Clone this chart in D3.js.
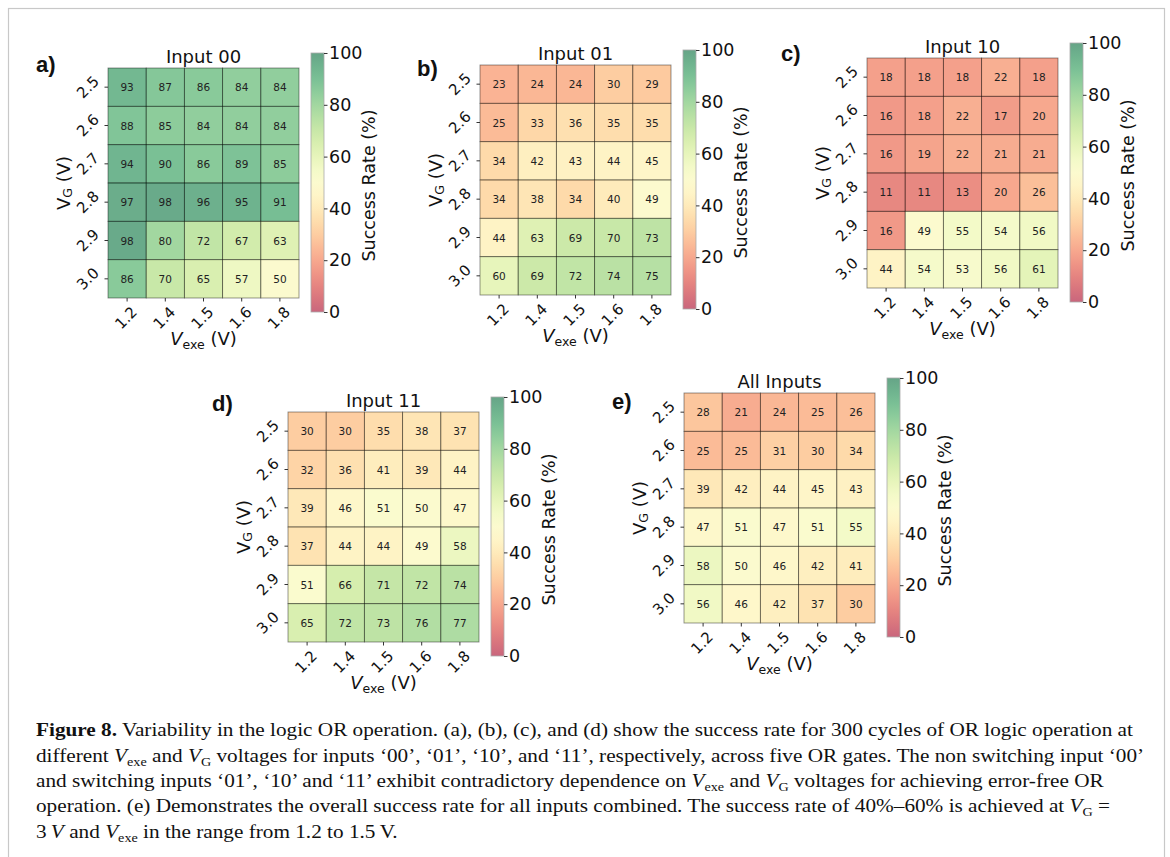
<!DOCTYPE html>
<html>
<head>
<meta charset="utf-8">
<title>Figure 8</title>
<script src="https://d3js.org/d3.v7.min.js"></script>
<style>
  body { margin: 0; background: #fff; }
  svg { display: block; }
  .cell-label { font-family: "DejaVu Sans", sans-serif; font-size: 10.5px; fill: #222; }
  .tick text { font-family: "DejaVu Sans", sans-serif; fill: #111; }
  .ptitle, .axlabel { font-family: "DejaVu Sans", sans-serif; fill: #111; }
  .letter { font-family: "Liberation Sans", Arial, sans-serif; font-weight: bold; font-size: 22px; fill: #111; }
  .caption { font-family: "Liberation Serif", serif; font-size: 18px; fill: #111; }
</style>
</head>
<body>
<svg id="fig" width="1170" height="857"></svg>
<script>

// Axis categories
const vexeLabels = ["1.2", "1.4", "1.5", "1.6", "1.8"];
const vgLabels = ["2.5", "2.6", "2.7", "2.8", "2.9", "3.0"];
const cbarTicks = [0, 20, 40, 60, 80, 100];

// Success rate (%) rows = VG, columns = Vexe
const input00 = [
  [93, 87, 86, 84, 84],
  [88, 85, 84, 84, 84],
  [94, 90, 86, 89, 85],
  [97, 98, 96, 95, 91],
  [98, 80, 72, 67, 63],
  [86, 70, 65, 57, 50]
];
const input01 = [
  [23, 24, 24, 30, 29],
  [25, 33, 36, 35, 35],
  [34, 42, 43, 44, 45],
  [34, 38, 34, 40, 49],
  [44, 63, 69, 70, 73],
  [60, 69, 72, 74, 75]
];
const input10 = [
  [18, 18, 18, 22, 18],
  [16, 18, 22, 17, 20],
  [16, 19, 22, 21, 21],
  [11, 11, 13, 20, 26],
  [16, 49, 55, 54, 56],
  [44, 54, 53, 56, 61]
];
const input11 = [
  [30, 30, 35, 38, 37],
  [32, 36, 41, 39, 44],
  [39, 46, 51, 50, 47],
  [37, 44, 44, 49, 58],
  [51, 66, 71, 72, 74],
  [65, 72, 73, 76, 77]
];
const allInputs = [
  [28, 21, 24, 25, 26],
  [25, 25, 31, 30, 34],
  [39, 42, 44, 45, 43],
  [47, 51, 47, 51, 55],
  [58, 50, 46, 42, 41],
  [56, 46, 42, 37, 30]
];

const panelTitles = ["Input 00", "Input 01", "Input 10", "Input 11", "All Inputs"];
const panelLetters = ["a)", "b)", "c)", "d)", "e)"];
const panelData = [input00, input01, input10, input11, allInputs];

// Caption lines as [text, style] pieces
const captionLines = [
  [["Figure 8.", "b"], [" Variability in the logic OR operation. (a), (b), (c), and (d) show the success rate for 300 cycles of OR logic operation at", ""]],
  [["different ", ""], ["V", "i"], ["exe", "sub"], [" and ", ""], ["V", "i"], ["G", "sub"], [" voltages for inputs \u201800\u2019, \u201801\u2019, \u201810\u2019, and \u201811\u2019, respectively, across five OR gates. The non switching input \u201800\u2019", ""]],
  [["and switching inputs \u201801\u2019, \u201810\u2019 and \u201811\u2019 exhibit contradictory dependence on ", ""], ["V", "i"], ["exe", "sub"], [" and ", ""], ["V", "i"], ["G", "sub"], [" voltages for achieving error-free OR", ""]],
  [["operation. (e) Demonstrates the overall success rate for all inputs combined. The success rate of 40%\u201360% is achieved at ", ""], ["V", "i"], ["G", "sub"], [" =", ""]],
  [["3\u2009", ""], ["V", "i"], [" and ", ""], ["V", "i"], ["exe", "sub"], [" in the range from 1.2 to 1.5\u2009V.", ""]]
];

// Layout: heatmap top-left and panel letter position
const panelLayout = [
  { x: 108, y: 68, lx: 36, ly: 72 },
  { x: 480, y: 65, lx: 417, ly: 76 },
  { x: 867, y: 58, lx: 781, ly: 61 },
  { x: 288, y: 412, lx: 212, ly: 411 },
  { x: 684, y: 393, lx: 612, ly: 409 }
];
const hmW = 191, hmH = 230;
const cbW = 13, cbH = 259;

const svg = d3.select("#fig");

// Figure frame
svg.append("rect")
    .attr("x", 8.5).attr("y", 8.5)
    .attr("width", 1156).attr("height", 880)
    .attr("fill", "none")
    .attr("stroke", "#c8c8c8")
    .attr("stroke-width", 1.2);

const color = d3.scaleSequential(d3.interpolateRdYlGn).domain([0, 100]);

// Shared gradient for the colour bars
const grad = svg.append("defs").append("linearGradient")
    .attr("id", "cbGrad")
    .attr("x1", 0).attr("y1", 1).attr("x2", 0).attr("y2", 0);
grad.selectAll("stop")
    .data(d3.range(0, 101, 5))
  .enter().append("stop")
    .attr("offset", d => d + "%")
    .attr("stop-color", d => color(d));

panelData.forEach((data, p) => {
  const L = panelLayout[p];
  const g = svg.append("g");

  const x = d3.scaleBand().domain(vexeLabels).range([L.x, L.x + hmW]);
  const y = d3.scaleBand().domain(vgLabels).range([L.y, L.y + hmH]);

  const cells = [];
  data.forEach((row, i) => row.forEach((v, j) => cells.push({ vg: vgLabels[i], vexe: vexeLabels[j], v: v })));

  g.selectAll(".cell")
      .data(cells)
    .enter().append("rect")
      .attr("class", "cell")
      .attr("x", d => x(d.vexe))
      .attr("y", d => y(d.vg))
      .attr("width", x.bandwidth())
      .attr("height", y.bandwidth())
      .attr("fill", d => color(d.v))
      .attr("fill-opacity", 0.6)
      .attr("stroke", "#000")
      .attr("stroke-opacity", 0.45)
      .attr("stroke-width", 0.9);

  g.selectAll(".cell-label")
      .data(cells)
    .enter().append("text")
      .attr("class", "cell-label")
      .attr("x", d => x(d.vexe) + x.bandwidth() / 2)
      .attr("y", d => y(d.vg) + y.bandwidth() / 2)
      .attr("text-anchor", "middle")
      .attr("dominant-baseline", "central")
      .text(d => d.v);

  // Axes
  const yAxis = g.append("g")
      .attr("transform", "translate(" + L.x + ",0)")
      .call(d3.axisLeft(y).tickSize(3.5));
  yAxis.select(".domain").remove();
  yAxis.selectAll(".tick line").attr("stroke", "#333");
  yAxis.selectAll(".tick text")
      .attr("x", 0).attr("dy", null)
      .attr("font-size", 15)
      .attr("text-anchor", "middle")
      .attr("dominant-baseline", "central")
      .attr("transform", "translate(-20,0) rotate(-45)");

  const xAxis = g.append("g")
      .attr("transform", "translate(0," + (L.y + hmH) + ")")
      .call(d3.axisBottom(x).tickSize(3.5));
  xAxis.select(".domain").remove();
  xAxis.selectAll(".tick line").attr("stroke", "#333");
  xAxis.selectAll(".tick text")
      .attr("y", 0).attr("dy", null)
      .attr("font-size", 15)
      .attr("text-anchor", "middle")
      .attr("dominant-baseline", "central")
      .attr("transform", "translate(-1,20) rotate(-45)");

  // Title
  g.append("text")
      .attr("class", "ptitle")
      .attr("x", L.x + hmW / 2)
      .attr("y", L.y - 5)
      .attr("text-anchor", "middle")
      .attr("font-size", 18)
      .text(panelTitles[p]);

  // Panel letter
  g.append("text")
      .attr("class", "letter")
      .attr("x", L.lx)
      .attr("y", L.ly)
      .text(panelLetters[p]);

  // Y label
  const yl = g.append("text")
      .attr("class", "axlabel")
      .attr("font-size", 18)
      .attr("text-anchor", "middle")
      .attr("dominant-baseline", "central")
      .attr("transform", "translate(" + (L.x - 45) + "," + (L.y + hmH / 2) + ") rotate(-90)");
  yl.append("tspan").text("V");
  yl.append("tspan").attr("font-size", 12.5).attr("dy", 4).text("G");
  yl.append("tspan").attr("dy", -4).text(" (V)");

  // X label
  const xl = g.append("text")
      .attr("class", "axlabel")
      .attr("font-size", 18)
      .attr("text-anchor", "middle")
      .attr("x", L.x + hmW / 2)
      .attr("y", L.y + hmH + 47);
  xl.append("tspan").attr("font-style", "italic").text("V");
  xl.append("tspan").attr("font-size", 12.5).attr("dy", 4).text("exe");
  xl.append("tspan").attr("dy", -4).text(" (V)");

  // Colour bar
  const cbx = L.x + hmW + 12;
  const cby = L.y - 15;
  g.append("rect")
      .attr("x", cbx).attr("y", cby)
      .attr("width", cbW).attr("height", cbH)
      .attr("fill", "url(#cbGrad)")
      .attr("fill-opacity", 0.6)
      .attr("stroke", "#aaa")
      .attr("stroke-width", 0.8);

  const cbScale = d3.scaleLinear().domain([0, 100]).range([cby + cbH, cby]);
  const cbAxis = g.append("g")
      .attr("transform", "translate(" + (cbx + cbW) + ",0)")
      .call(d3.axisRight(cbScale).tickValues(cbarTicks).tickSize(3.5));
  cbAxis.select(".domain").remove();
  cbAxis.selectAll(".tick line").attr("stroke", "#333");
  cbAxis.selectAll(".tick text")
      .attr("x", 5)
      .attr("font-size", 17.5);

  g.append("text")
      .attr("class", "axlabel")
      .attr("font-size", 17.5)
      .attr("text-anchor", "middle")
      .attr("dominant-baseline", "central")
      .attr("transform", "translate(" + (cbx + cbW + 45) + "," + (cby + cbH / 2 + 3) + ") rotate(-90)")
      .text("Success Rate (%)");
});

// Caption (reference face is wider than Times, so stretch each line)
const capBase = [736, 762, 787, 812, 838];
const capStretch = 1.18;
captionLines.forEach((line, k) => {
  const t = svg.append("text")
      .attr("class", "caption")
      .attr("x", 36)
      .attr("y", capBase[k]);
  let shifted = false;
  line.forEach(([txt, st]) => {
    const s = t.append("tspan").text(txt);
    if (st === "b") s.attr("font-weight", "bold");
    if (st === "i") s.attr("font-style", "italic");
    if (st === "sub") {
      s.attr("font-size", 12).attr("dy", 4);
      shifted = true;
    } else if (shifted) {
      s.attr("dy", -4);
      shifted = false;
    }
  });
  const w = t.node().getComputedTextLength();
  t.attr("textLength", w * capStretch).attr("lengthAdjust", "spacingAndGlyphs");
});

</script>
</body>
</html>
